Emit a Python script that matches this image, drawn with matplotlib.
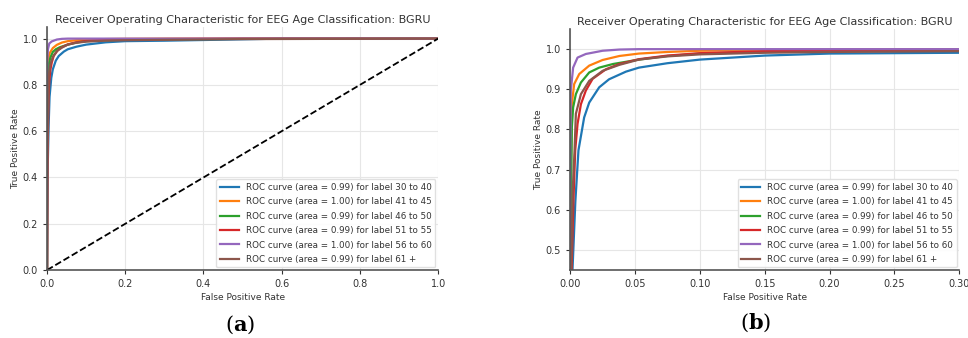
import matplotlib.pyplot as plt

# ROC points (fpr, tpr) per age class
labels = ['30 to 40', '41 to 45', '46 to 50', '51 to 55', '56 to 60', '61 +']
areas = [0.99, 1.00, 0.99, 0.99, 1.00, 0.99]
colors = ['tab:blue', 'tab:orange', 'tab:green', 'tab:red', 'tab:purple', 'tab:brown']

fpr_30 = [0.0, 0.0005, 0.0018, 0.0040, 0.0064, 0.0108, 0.0147, 0.0224, 0.030, 0.043, 0.053,
          0.075, 0.10, 0.15, 0.20, 0.25, 0.30, 0.40, 0.50, 0.60, 0.80, 1.0]
tpr_30 = [0.0, 0.20, 0.45, 0.62, 0.748, 0.830, 0.867, 0.905, 0.925, 0.944, 0.954,
          0.965, 0.974, 0.984, 0.989, 0.990, 0.991, 0.994, 0.997, 1.0, 1.0, 1.0]

fpr_41 = [0.0, 0.0, 0.0013, 0.0031, 0.007, 0.0147, 0.025, 0.038, 0.053, 0.075, 0.10,
          0.15, 0.20, 0.30, 0.50, 1.0]
tpr_41 = [0.0, 0.55, 0.863, 0.913, 0.938, 0.959, 0.973, 0.983, 0.989, 0.993, 0.996,
          0.998, 0.999, 1.0, 1.0, 1.0]

fpr_46 = [0.0, 0.0, 0.0013, 0.0023, 0.0044, 0.0083, 0.0147, 0.0224, 0.033, 0.053, 0.075,
          0.10, 0.15, 0.20, 0.30, 0.50, 1.0]
tpr_46 = [0.0, 0.45, 0.805, 0.855, 0.888, 0.917, 0.942, 0.954, 0.963, 0.974, 0.983,
          0.989, 0.993, 0.995, 0.997, 0.999, 1.0]

fpr_51 = [0.0, 0.0011, 0.0025, 0.0039, 0.0057, 0.0083, 0.0121, 0.0173, 0.0276, 0.038, 0.053,
          0.075, 0.10, 0.15, 0.20, 0.30, 0.50, 1.0]
tpr_51 = [0.0, 0.45, 0.62, 0.748, 0.814, 0.863, 0.897, 0.926, 0.950, 0.963, 0.975,
          0.984, 0.990, 0.995, 0.997, 0.998, 1.0, 1.0]

fpr_56 = [0.0, 0.0, 0.0005, 0.0023, 0.0057, 0.0121, 0.025, 0.038, 0.053, 1.0]
tpr_56 = [0.0, 0.70, 0.897, 0.954, 0.979, 0.988, 0.996, 0.999, 1.0, 1.0]

fpr_61 = [0.0, 0.0008, 0.0020, 0.0034, 0.0044, 0.0083, 0.0147, 0.025, 0.038, 0.053, 0.075,
          0.10, 0.15, 0.20, 0.30, 0.50, 1.0]
tpr_61 = [0.0, 0.45, 0.65, 0.748, 0.839, 0.888, 0.921, 0.946, 0.961, 0.974, 0.982,
          0.987, 0.991, 0.993, 0.995, 0.998, 1.0]

fprs = [fpr_30, fpr_41, fpr_46, fpr_51, fpr_56, fpr_61]
tprs = [tpr_30, tpr_41, tpr_46, tpr_51, tpr_56, tpr_61]

title = 'Receiver Operating Characteristic for EEG Age Classification: BGRU'
txt = '#333333'

fig = plt.figure(figsize=(9.68, 3.38), dpi=100)
ax_a = fig.add_axes([0.0486, 0.201, 0.404, 0.719])
ax_b = fig.add_axes([0.589, 0.201, 0.402, 0.713])


def style(ax):
    ax.grid(True, color='#e6e6e6', lw=0.8)
    ax.set_axisbelow(True)
    for s in ['top', 'right']:
        ax.spines[s].set_visible(False)
    for s in ['left', 'bottom']:
        ax.spines[s].set_color('#555555')
        ax.spines[s].set_linewidth(1.2)
    ax.tick_params(labelsize=7, colors=txt, length=3, width=0.8)
    ax.set_xlabel('False Positive Rate', fontsize=6.5, color=txt, labelpad=3)
    ax.set_ylabel('True Positive Rate', fontsize=6.5, color=txt, labelpad=2)
    ax.set_title(title, fontsize=8, color=txt, pad=3)


for ax in [ax_a, ax_b]:
    for f, t, c, a, lab in zip(fprs, tprs, colors, areas, labels):
        ax.plot(f, t, color=c, lw=1.6,
                label='ROC curve (area = %0.2f) for label %s' % (a, lab))
    style(ax)

ax_a.plot([0, 1], [0, 1], 'k--', lw=1.3)
ax_a.set_xlim(0, 1.0)
ax_a.set_ylim(0, 1.05)

ax_b.set_xlim(0, 0.30)
ax_b.set_ylim(0.45, 1.05)
ax_b.set_xticks([0.0, 0.05, 0.10, 0.15, 0.20, 0.25, 0.30])
ax_b.set_xticklabels(['0.00', '0.05', '0.10', '0.15', '0.20', '0.25', '0.30'])

for ax in [ax_a, ax_b]:
    leg = ax.legend(loc='lower right', fontsize=6.3, labelspacing=0.62,
                    handlelength=2.2, borderaxespad=0.3, framealpha=0.9)
    leg.get_frame().set_edgecolor('#dddddd')
    for t in leg.get_texts():
        t.set_color(txt)

fig.text(240 / 968, 1 - 325 / 338, r'($\mathbf{a}$)', ha='center', va='center',
         fontsize=15, family='DejaVu Serif', math_fontfamily='dejavuserif')
fig.text(756 / 968, 1 - 323 / 338, r'($\mathbf{b}$)', ha='center', va='center',
         fontsize=15, family='DejaVu Serif', math_fontfamily='dejavuserif')

fig.savefig('out.png', dpi=100)
